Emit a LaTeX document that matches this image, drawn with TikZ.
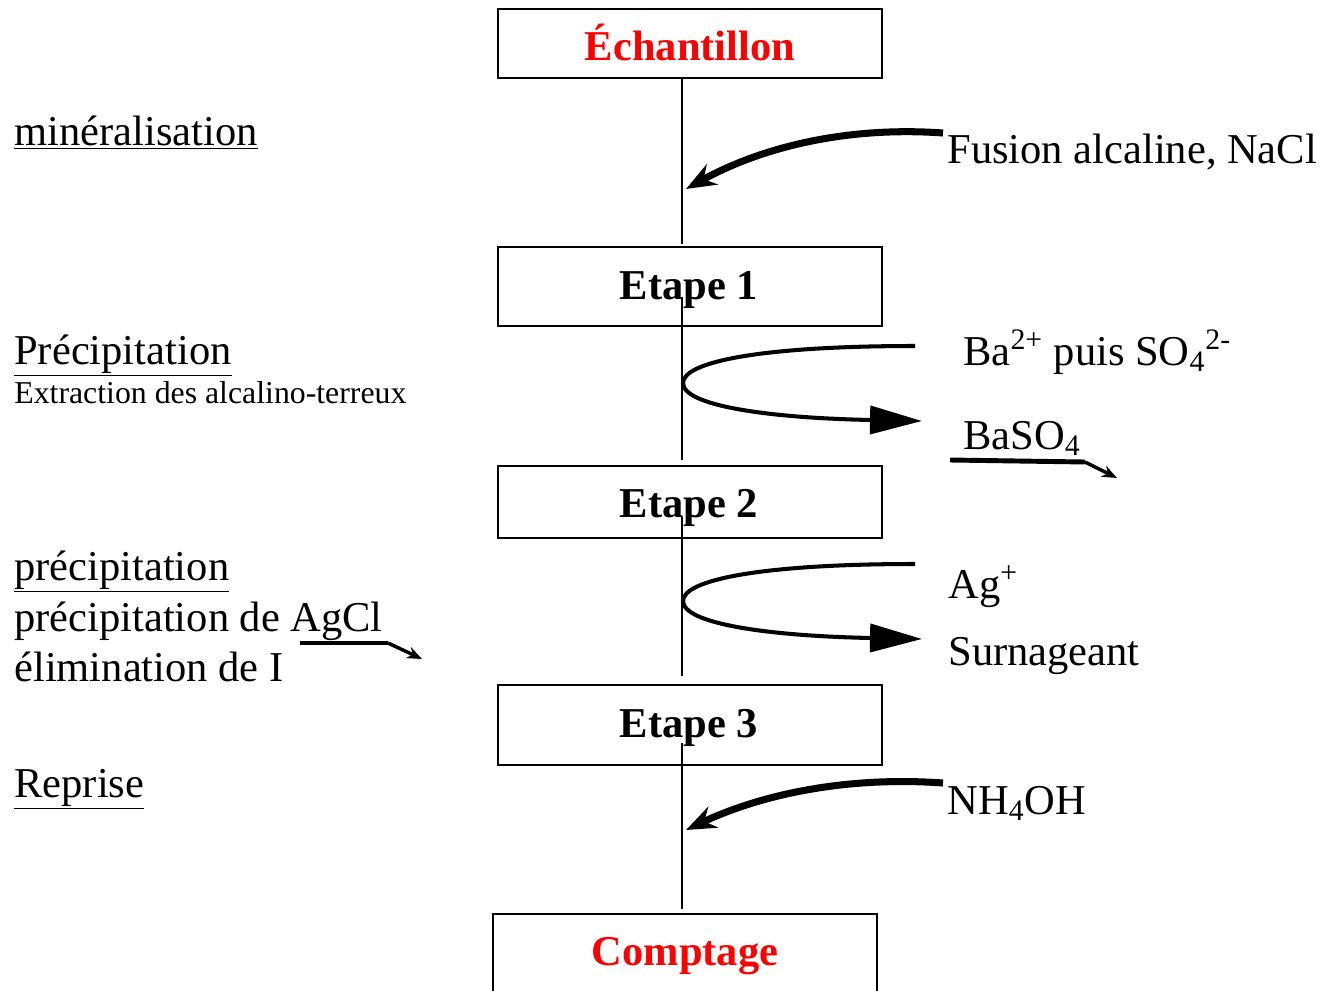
\documentclass[tikz,border=0pt]{standalone}
\usepackage{fontspec}
\setmainfont{Liberation Serif}
\usetikzlibrary{arrows.meta}

\newcommand\txtbig{\fontsize{24.2}{29}\selectfont}
\newcommand\txtsmall{\fontsize{18.1}{22}\selectfont}

\begin{document}
\begin{tikzpicture}[x=0.02cm,y=-0.02cm,
    stepbox/.style={draw,line width=1.1pt,minimum width=7.68cm,inner sep=0pt},
    steptext/.style={anchor=base,inner sep=0pt,font=\txtbig\bfseries},
    lbl/.style={anchor=base west,inner sep=0pt,font=\txtbig},
    vline/.style={line width=1.1pt},
    addarrow/.style={line width=4pt,-{Stealth[length=0.6cm,width=0.46cm,inset=0.2cm]}},
    looparrow/.style={line width=2.3pt,-{Triangle[length=1.04cm,width=0.56cm]}},
    outarrow/.style={line width=2pt,-{Stealth[length=0.3cm,width=0.24cm]}}]

        \useasboundingbox (0,0) rectangle (1324,990);

        % boxes of the chain
        \begin{scope}[every node/.style={stepbox}]
          \node[minimum height=1.38cm] (ech) at (690,43.5) {};
          \node[minimum height=1.58cm] (e1)  at (690,286.5) {};
          \node[minimum height=1.44cm] (e2)  at (690,502) {};
          \node[minimum height=1.60cm] (e3)  at (690,725) {};
          \node[minimum height=1.72cm] (cpt) at (685,957) {};
        \end{scope}

        \begin{scope}[every node/.style={steptext}]
          \node[text=red] (echt) at (690,61)  {Échantillon};
          \node (e1t)             at (689,299) {Etape 1};
          \node (e2t)             at (689,517) {Etape 2};
          \node (e3t)             at (689,737) {Etape 3};
          \node[text=red] (cptt)  at (685,965) {Comptage};
        \end{scope}

        % left column
        \begin{scope}[every node/.style={lbl}]
          \node (min)  at (14,145) {\underline{minéralisation}};
          \node (prc1) at (14,364) {\underline{Précipitation}};
          \node[font=\txtsmall] (extr) at (14,403) {Extraction des alcalino-terreux};
          \node (prc2) at (14,580) {\underline{précipitation}};
          \node (agcl) at (14,631) {précipitation de AgCl};
          \node (elim) at (14,681) {élimination de I};
          \node (rep)  at (14,797) {\underline{Reprise}};
        \end{scope}

        % right column
        \begin{scope}[every node/.style={lbl}]
          \node (fus)  at (947,163) {Fusion alcaline, NaCl};
          \node (ba)   at (963,365) {Ba\textsuperscript{2+} puis SO\textsubscript{4}\textsuperscript{2-}};
          \node (baso) at (963,449) {BaSO\textsubscript{4}};
          \node (ag)   at (948,598) {Ag\textsuperscript{+}};
          \node (surn) at (948,665) {Surnageant};
          \node (nh)   at (947,814) {NH\textsubscript{4}OH};
        \end{scope}

        % axis
        \coordinate (v1) at (682,244);
        \coordinate (v2) at (682,297);
        \coordinate (v3) at (682,460);
        \coordinate (v4) at (682,517);
        \coordinate (v5) at (682,676);
        \coordinate (v6) at (682,743);
        \coordinate (v7) at (682,909);

        \begin{scope}[every path/.style={vline}]
          \draw (ech.south -| v1) -- (v1);
          \draw (v2) -- (v3);
          \draw (v4) -- (v5);
          \draw (v6) -- (v7);
        \end{scope}

        % reagents in
        \coordinate (f0) at (943,133);
        \coordinate (f1) at (686,189);
        \coordinate (n0) at (943,783);
        \coordinate (n1) at (686,830);
        \draw[addarrow] (f0) .. controls (845,126) and (760,148) .. (f1);
        \draw[addarrow] (n0) .. controls (845,776) and (760,795) .. (n1);

        % loops
        \coordinate (b0) at (915,346);
        \coordinate (b1) at (683,383);
        \coordinate (b2) at (922,421);
        \coordinate (a0) at (915,564);
        \coordinate (a1) at (683,601);
        \coordinate (a2) at (922,639);
        \draw[looparrow] (b0) .. controls (760,346) and (683,362) .. (b1)
                              .. controls (683,406) and (770,418) .. (b2);
        \draw[looparrow] (a0) .. controls (760,564) and (683,580) .. (a1)
                              .. controls (683,624) and (770,636) .. (a2);

        % strokes under BaSO4 and AgCl
        \coordinate (s0) at (950,460);
        \coordinate (s1) at (1085,462);
        \coordinate (s2) at (1117,478);
        \coordinate (t0) at (300,643);
        \coordinate (t1) at (388,643);
        \coordinate (t2) at (422,659);
        \draw[line width=2.8pt] (s0) -- (s1);
        \draw[outarrow] (s1) -- (s2);
        \draw[line width=2.8pt] (t0) -- (t1);
        \draw[outarrow] (t1) -- (t2);

      \end{tikzpicture}
\end{document}
